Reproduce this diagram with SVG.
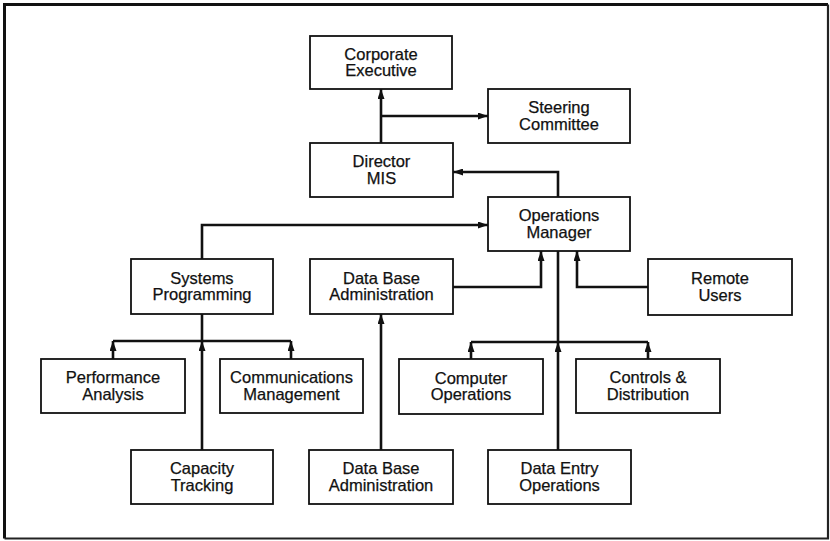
<svg xmlns="http://www.w3.org/2000/svg" width="830" height="541" viewBox="0 0 830 541">
<style>
.box{fill:#fff;stroke:#111;stroke-width:1.8}
.lbl{font-family:"Liberation Sans",Arial,Helvetica,sans-serif;font-size:16.5px;fill:#111;stroke:#111;stroke-width:0.25;text-anchor:middle}
.ln{fill:none;stroke:#111;stroke-width:2.6}
.ar{fill:none;stroke:#111;stroke-width:2.6;marker-end:url(#ah)}
</style>
<defs>
<marker id="ah" viewBox="0 0 10 7" markerWidth="10" markerHeight="7" refX="10" refY="3.5" orient="auto" markerUnits="userSpaceOnUse">
<path d="M0,0 L10,3.5 L0,7 z" fill="#111"/>
</marker>
</defs>
<rect x="0" y="0" width="830" height="541" fill="#fff"/>
<g id="frame">
<path d="M4.5,538.5 V4.5 H828" fill="none" stroke="#111" stroke-width="3"/>
<path d="M828,4.5 V538.5 H4.5" fill="none" stroke="#222" stroke-width="2.2"/>
</g>
<g id="connectors">
<path class="ar" d="M381,143 V89"/>
<path class="ar" d="M381,116 H488"/>
<path class="ar" d="M558,197 V172 H453"/>
<path class="ar" d="M202,259 V225 H488"/>
<path class="ar" d="M453,287 H541 V251"/>
<path class="ar" d="M648,287 H577 V251"/>
<path class="ln" d="M558,251 V342"/>
<path class="ln" d="M471,342 H648"/>
<path class="ar" d="M471,359 V342"/>
<path class="ar" d="M648,359 V342"/>
<path class="ar" d="M558,450 V342"/>
<path class="ln" d="M202,314 V341"/>
<path class="ln" d="M113,341 H291"/>
<path class="ar" d="M113,359 V341"/>
<path class="ar" d="M291,359 V341"/>
<path class="ar" d="M202,450 V341"/>
<path class="ar" d="M381,450 V314"/>
</g>
<g id="corporate-executive"><rect class="box" x="310" y="36" width="142" height="53"/><text class="lbl" x="381" y="59.5">Corporate</text><text class="lbl" x="381" y="76">Executive</text></g>
<g id="steering-committee"><rect class="box" x="488" y="89" width="142" height="54"/><text class="lbl" x="559" y="113">Steering</text><text class="lbl" x="559" y="129.5">Committee</text></g>
<g id="director-mis"><rect class="box" x="310" y="143" width="143" height="54"/><text class="lbl" x="381.5" y="167">Director</text><text class="lbl" x="381.5" y="183.5">MIS</text></g>
<g id="operations-manager"><rect class="box" x="488" y="197" width="142" height="54"/><text class="lbl" x="559" y="221">Operations</text><text class="lbl" x="559" y="237.5">Manager</text></g>
<g id="systems-programming"><rect class="box" x="131" y="259" width="142" height="55"/><text class="lbl" x="202" y="283.5">Systems</text><text class="lbl" x="202" y="300">Programming</text></g>
<g id="database-admin-top"><rect class="box" x="310" y="259" width="143" height="55"/><text class="lbl" x="381.5" y="283.5">Data Base</text><text class="lbl" x="381.5" y="300">Administration</text></g>
<g id="remote-users"><rect class="box" x="648" y="259" width="144" height="56"/><text class="lbl" x="720" y="284">Remote</text><text class="lbl" x="720" y="300.5">Users</text></g>
<g id="performance-analysis"><rect class="box" x="41" y="359" width="144" height="54"/><text class="lbl" x="113" y="383">Performance</text><text class="lbl" x="113" y="399.5">Analysis</text></g>
<g id="communications-management"><rect class="box" x="220" y="359" width="143" height="54"/><text class="lbl" x="291.5" y="383">Communications</text><text class="lbl" x="291.5" y="399.5">Management</text></g>
<g id="computer-operations"><rect class="box" x="399" y="359" width="144" height="55"/><text class="lbl" x="471" y="383.5">Computer</text><text class="lbl" x="471" y="400">Operations</text></g>
<g id="controls-distribution"><rect class="box" x="576" y="359" width="144" height="54"/><text class="lbl" x="648" y="383">Controls &amp;</text><text class="lbl" x="648" y="399.5">Distribution</text></g>
<g id="capacity-tracking"><rect class="box" x="131" y="450" width="142" height="54"/><text class="lbl" x="202" y="474">Capacity</text><text class="lbl" x="202" y="490.5">Tracking</text></g>
<g id="database-admin-bottom"><rect class="box" x="309" y="450" width="144" height="54"/><text class="lbl" x="381" y="474">Data Base</text><text class="lbl" x="381" y="490.5">Administration</text></g>
<g id="data-entry-operations"><rect class="box" x="488" y="450" width="143" height="54"/><text class="lbl" x="559.5" y="474">Data Entry</text><text class="lbl" x="559.5" y="490.5">Operations</text></g>
</svg>
